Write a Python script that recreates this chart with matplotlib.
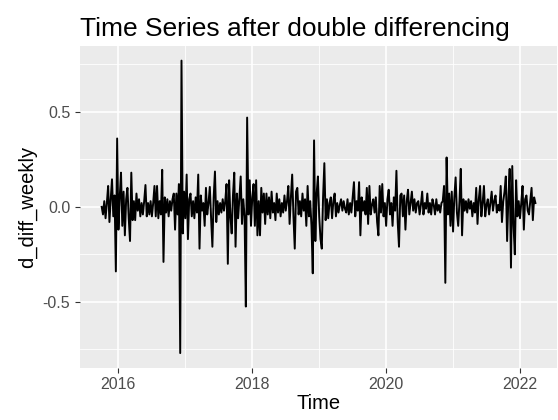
import numpy as np
import matplotlib
matplotlib.use("Agg")
import matplotlib.pyplot as plt
from matplotlib.ticker import FixedLocator

# weekly series, starting at week 40 of 2015 (frequency 52)
start_year = 2015
start_week = 40
freq = 52

d_diff_weekly = [
    0.00, -0.04, 0.03, -0.06, 0.02, 0.11, -0.08, 0.04, 0.145, -0.05,
    0.06, -0.34, 0.36, -0.12, 0.05, 0.18, -0.10, 0.08, -0.15, 0.04,
    0.10, -0.06, -0.18, 0.18, -0.07, 0.03, -0.07, 0.07, -0.02, 0.04,
    -0.05, 0.02, -0.04, 0.03, 0.115, -0.05, 0.02, -0.04, 0.03, -0.05,
    0.02, 0.11, -0.05, 0.11, -0.06, 0.03, -0.04, 0.195, -0.29, 0.05,
    -0.03, 0.04, -0.05, 0.03, -0.02, 0.04, 0.07, -0.12, 0.07, -0.04,
    0.12, -0.77, 0.77, -0.14, 0.08, -0.06, 0.17, -0.17, 0.04, 0.07,
    -0.05, 0.03, -0.06, 0.05, -0.03, 0.17, -0.22, 0.06, -0.02, 0.02,
    -0.10, 0.10, -0.04, 0.02, 0.105, -0.06, -0.21, 0.05, 0.186, -0.08,
    0.03, -0.04, 0.02, -0.03, 0.04, -0.02, 0.03, 0.12, -0.30, 0.14,
    -0.05, -0.14, 0.06, 0.18, -0.21, 0.07, -0.06, 0.05, 0.16, -0.09,
    0.04, -0.05, -0.525, 0.47, -0.04, 0.14, -0.10, 0.05, 0.12, -0.10,
    0.14, -0.15, 0.03, -0.15, 0.10, -0.03, 0.07, -0.09, 0.07, -0.04,
    0.05, -0.06, 0.08, -0.03, 0.02, -0.07, 0.07, -0.03, 0.04, -0.05,
    0.02, -0.03, 0.06, -0.02, 0.03, 0.11, -0.09, 0.05, 0.17, -0.05,
    -0.22, 0.08, 0.10, -0.04, 0.03, -0.05, 0.07, -0.02, 0.04, -0.10,
    0.11, -0.05, 0.03, -0.10, -0.35, 0.35, -0.18, 0.07, 0.16, -0.05,
    -0.17, -0.22, 0.05, 0.23, -0.07, 0.04, -0.06, 0.02, 0.05, -0.06,
    0.03, 0.07, -0.05, 0.02, -0.03, 0.01, 0.04, -0.02, 0.03, -0.01,
    -0.03, 0.04, -0.04, 0.02, -0.03, 0.05, 0.13, -0.05, 0.03, -0.02,
    0.13, -0.15, 0.05, -0.02, 0.03, -0.04, 0.10, -0.09, 0.11, -0.04,
    0.01, 0.04, -0.03, 0.05, -0.08, -0.15, 0.11, -0.03, 0.12, -0.05,
    0.02, -0.10, 0.04, 0.09, -0.04, 0.02, -0.10, 0.05, -0.02, 0.19,
    -0.08, -0.21, 0.06, 0.07, -0.05, 0.06, -0.12, 0.03, 0.09, -0.04,
    0.02, 0.08, -0.02, 0.04, -0.03, 0.02, 0.03, -0.04, 0.01, 0.08,
    -0.04, 0.02, -0.01, 0.07, -0.03, 0.02, -0.04, 0.04, 0.01, -0.04,
    0.04, -0.02, 0.01, -0.03, 0.02, 0.03, 0.11, -0.40, 0.26, -0.04,
    0.07, -0.10, 0.08, -0.13, 0.05, 0.155, -0.03, -0.10, 0.03, 0.20,
    -0.15, 0.04, -0.02, 0.03, -0.03, 0.04, -0.01, 0.03, -0.05, 0.02,
    -0.03, 0.10, -0.09, 0.04, 0.11, -0.05, 0.02, 0.11, -0.05, 0.01,
    0.04, -0.04, 0.02, 0.08, -0.02, 0.03, 0.06, -0.03, 0.01, -0.02,
    0.11, -0.08, 0.03, 0.08, 0.16, -0.18, 0.05, 0.20, -0.32, 0.215,
    -0.10, -0.25, 0.14, -0.05, 0.03, -0.06, 0.02, 0.11, -0.12, 0.04,
    0.06, -0.02, -0.04, 0.03, 0.10, -0.07, 0.05, 0.02,
]

x_major = [2016, 2018, 2020, 2022]
x_minor = [2015, 2017, 2019, 2021, 2023]
y_major = [-0.5, 0.0, 0.5]
y_labels = ["-0.5", "0.0", "0.5"]
y_minor = [-0.75, -0.25, 0.25, 0.75]

time = start_year + (start_week - 1 + np.arange(len(d_diff_weekly))) / freq

plt.rcParams['font.family'] = ['Liberation Sans', 'DejaVu Sans']

fig = plt.figure(figsize=(5.58, 4.2), dpi=100)
ax = fig.add_axes([0.1434, 0.1245, 0.855, 0.766])
ax.set_facecolor("#EBEBEB")

ax.plot(time, d_diff_weekly, color="black", lw=1.4, zorder=3)
ax.margins(x=0.05, y=0.05)

ax.xaxis.set_major_locator(FixedLocator(x_major))
ax.xaxis.set_minor_locator(FixedLocator(x_minor))
ax.yaxis.set_major_locator(FixedLocator(y_major))
ax.yaxis.set_minor_locator(FixedLocator(y_minor))
ax.set_yticklabels(y_labels)
ax.set_xticklabels([str(v) for v in x_major])

ax.grid(which="major", color="white", lw=1.2, zorder=0)
ax.grid(which="minor", color="white", lw=0.6, zorder=0)
ax.set_axisbelow(True)
for s in ax.spines.values():
    s.set_visible(False)

ax.tick_params(which="major", length=3.5, width=0.8, color="#333333",
               labelsize=11.5, labelcolor="#4D4D4D", pad=3.5)
ax.tick_params(which="minor", length=0)

ax.set_xlabel("Time", fontsize=14.5, color="black", labelpad=1)
ax.set_ylabel("d_diff_weekly", fontsize=14.5, color="black", labelpad=4)
ax.set_title("Time Series after double differencing", loc="left",
             fontsize=19, color="black", pad=7)

fig.savefig("out.png", dpi=100)
